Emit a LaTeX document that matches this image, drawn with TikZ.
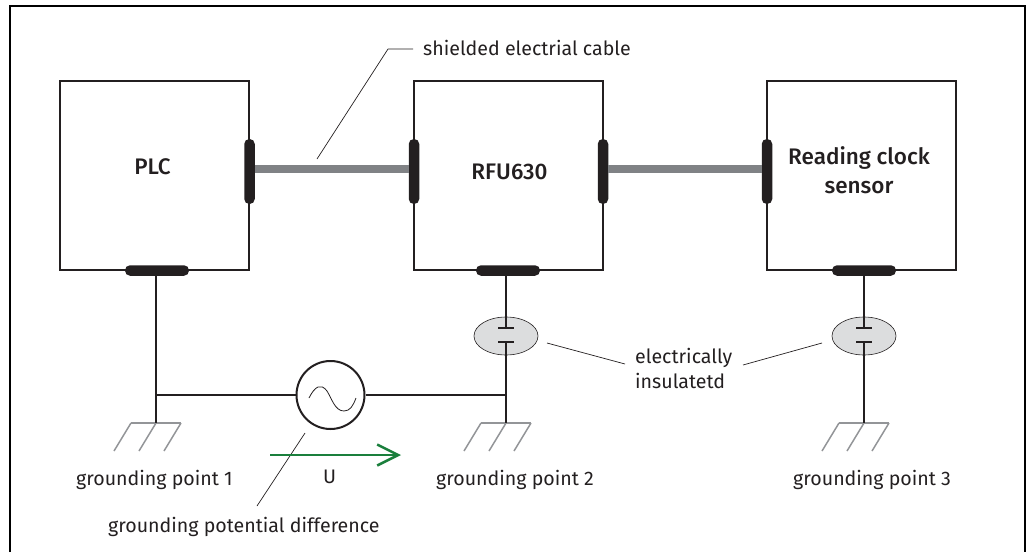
\documentclass[tikz,border=0pt]{standalone}
\usepackage{fontspec}
\setmainfont{Fira Sans}
\newfontfamily\medfont{Fira Sans Medium}
\usetikzlibrary{arrows.meta,shapes.geometric}
\definecolor{wire}{HTML}{231F20}
\definecolor{cablegray}{HTML}{808285}
\definecolor{gndgray}{HTML}{939598}
\definecolor{insgray}{HTML}{DCDDDE}
\definecolor{ugreen}{HTML}{1A7F3C}
\tikzset{
  x=1pt,y=-1pt,
  devbox/.style={draw=wire,line width=2pt,minimum width=189pt,minimum height=189pt,inner sep=0pt},
  devlbl/.style={inner sep=0pt,align=center,text=wire,font=\fontsize{22.5}{29}\selectfont\medfont},
  hbar/.style={fill=wire,rounded corners=5pt,minimum width=64pt,minimum height=10.5pt,inner sep=0pt},
  vbar/.style={fill=wire,rounded corners=5pt,minimum width=10.5pt,minimum height=65pt,inner sep=0pt},
  wireline/.style={draw=wire,line width=2pt},
  cable/.style={draw=cablegray,line width=8pt},
  gnd/.style={draw=gndgray,line width=1.5pt},
  leader/.style={draw=wire,line width=0.7pt},
  lbl/.style={inner sep=0pt,anchor=base west,font=\fontsize{19.6}{25}\selectfont,text=wire,align=left},
  ins/.style={draw=wire,line width=0.6pt,fill=insgray,ellipse,minimum width=64pt,minimum height=38pt,inner sep=0pt},
  plate/.style={draw=wire,line width=2pt},
  src/.style={circle,draw=wire,line width=2pt,minimum size=68pt,inner sep=0pt},
}
\newcommand{\gndsym}[2]{%
  \coordinate (#2l) at (#1,423);
  \draw[gnd] (#1-25,423) -- (#1+25,423);
  \draw[gnd] (#1-25,423) -- (#1-42,451);
  \draw[gnd] (#1,423) -- (#1-17,451);
  \draw[gnd] (#1+25,423) -- (#1+8,451);
}
\begin{document}
\begin{tikzpicture}
\useasboundingbox (0,0) rectangle (1026,552);
\draw[line width=2pt,draw=black] (10,552) -- (10,6) -- (1025,6) -- (1025,552);

% devices
\node[devbox] (plc) at (154.5,175.5) {};
\node[devbox] (rfu) at (508,175.5) {};
\node[devbox] (clk) at (861.5,175.5) {};
\node[devlbl] (plctxt) at (152.5,167) {PLC};
\node[devlbl] (rfutxt) at (509.5,171.5) {RFU630};
\node[devlbl] (clktxt) at (859,170) {Reading clock\\sensor};

% plugs
\node[vbar] (p1r) at (249.5,171.5) {};
\node[vbar] (p2l) at (414,171.5) {};
\node[vbar] (p2r) at (603,171.5) {};
\node[vbar] (p3l) at (767,171.5) {};
\node[hbar] (b1) at (157,270.5) {};
\node[hbar] (b2) at (508,270.5) {};
\node[hbar] (b3) at (864,270.5) {};

% cables
\draw[cable] ([yshift=2.5pt]p1r.east) -- ([yshift=2.5pt]p2l.west);
\draw[cable] ([yshift=2.5pt]p2r.east) -- ([yshift=2.5pt]p3l.west);

% grounds
\gndsym{156}{g1}
\gndsym{506}{g2}
\gndsym{864}{g3}
\draw[wireline] (b1.south -| g1l) -- (g1l);

% source
\node[src] (ac) at (330.5,395) {};
\coordinate (j1) at (156,395);
\coordinate (j2) at (506,395);
\draw[wireline] (j1) -- (ac.west);
\draw[wireline] (ac.east) -- (j2);
\draw[draw=wire,line width=0.8pt] (309,398) .. controls (315,386) and (321,383) .. (327,391)
  .. controls (332,399) and (335,411) .. (344,411) .. controls (350,411) and (353,406) .. (356,398);

% insulators
\node[ins] (i2) at (506,336) {};
\node[ins] (i3) at (864,336) {};
\coordinate (c2a) at (506,328); \coordinate (c2b) at (506,342);
\coordinate (c3a) at (864,328); \coordinate (c3b) at (864,342);
\draw[wireline] (b2.south -| c2a) -- (c2a);
\draw[wireline] (c2b) -- (g2l);
\draw[wireline] (b3.south -| c3a) -- (c3a);
\draw[wireline] (c3b) -- (g3l);
\draw[plate] ([xshift=-8pt]c2a) -- ([xshift=8pt]c2a);
\draw[plate] ([xshift=-8pt]c2b) -- ([xshift=8pt]c2b);
\draw[plate] ([xshift=-8pt]c3a) -- ([xshift=8pt]c3a);
\draw[plate] ([xshift=-8pt]c3b) -- ([xshift=8pt]c3b);

% labels
\node[lbl] (tcable) at (423,55) {shielded electrial cable};
\node[lbl] (tg1) at (76,485) {grounding point 1};
\node[lbl] (tg2) at (436,485) {grounding point 2};
\node[lbl] (tg3) at (793,485) {grounding point 3};
\node[lbl] (tu) at (323,483) {U};
\node[lbl] (tdiff) at (108,532) {grounding potential difference};
\node[lbl] (tins) at (635,388) {electrically\\insulatetd};

% leaders
\coordinate (lc1) at (317,159); \coordinate (lc2) at (388,49); \coordinate (lc3) at (413,49);
\draw[leader] (lc1) -- (lc2) -- (lc3);
\coordinate (ld1) at (305,433); \coordinate (ld2) at (257,506);
\draw[leader] (ld1) -- (ld2);
\coordinate (la1) at (547,343); \coordinate (la2) at (625,364);
\draw[leader] (la1) -- (la2);
\coordinate (lb1) at (822,343); \coordinate (lb2) at (743,365);
\draw[leader] (lb1) -- (lb2);

% U arrow
\coordinate (ua) at (270,455); \coordinate (ub) at (401,455);
\draw[draw=ugreen,line width=2.5pt,-{Straight Barb[length=21pt,width=21pt,line width=2.5pt]}] (ua) -- (ub);
\end{tikzpicture}
\end{document}
